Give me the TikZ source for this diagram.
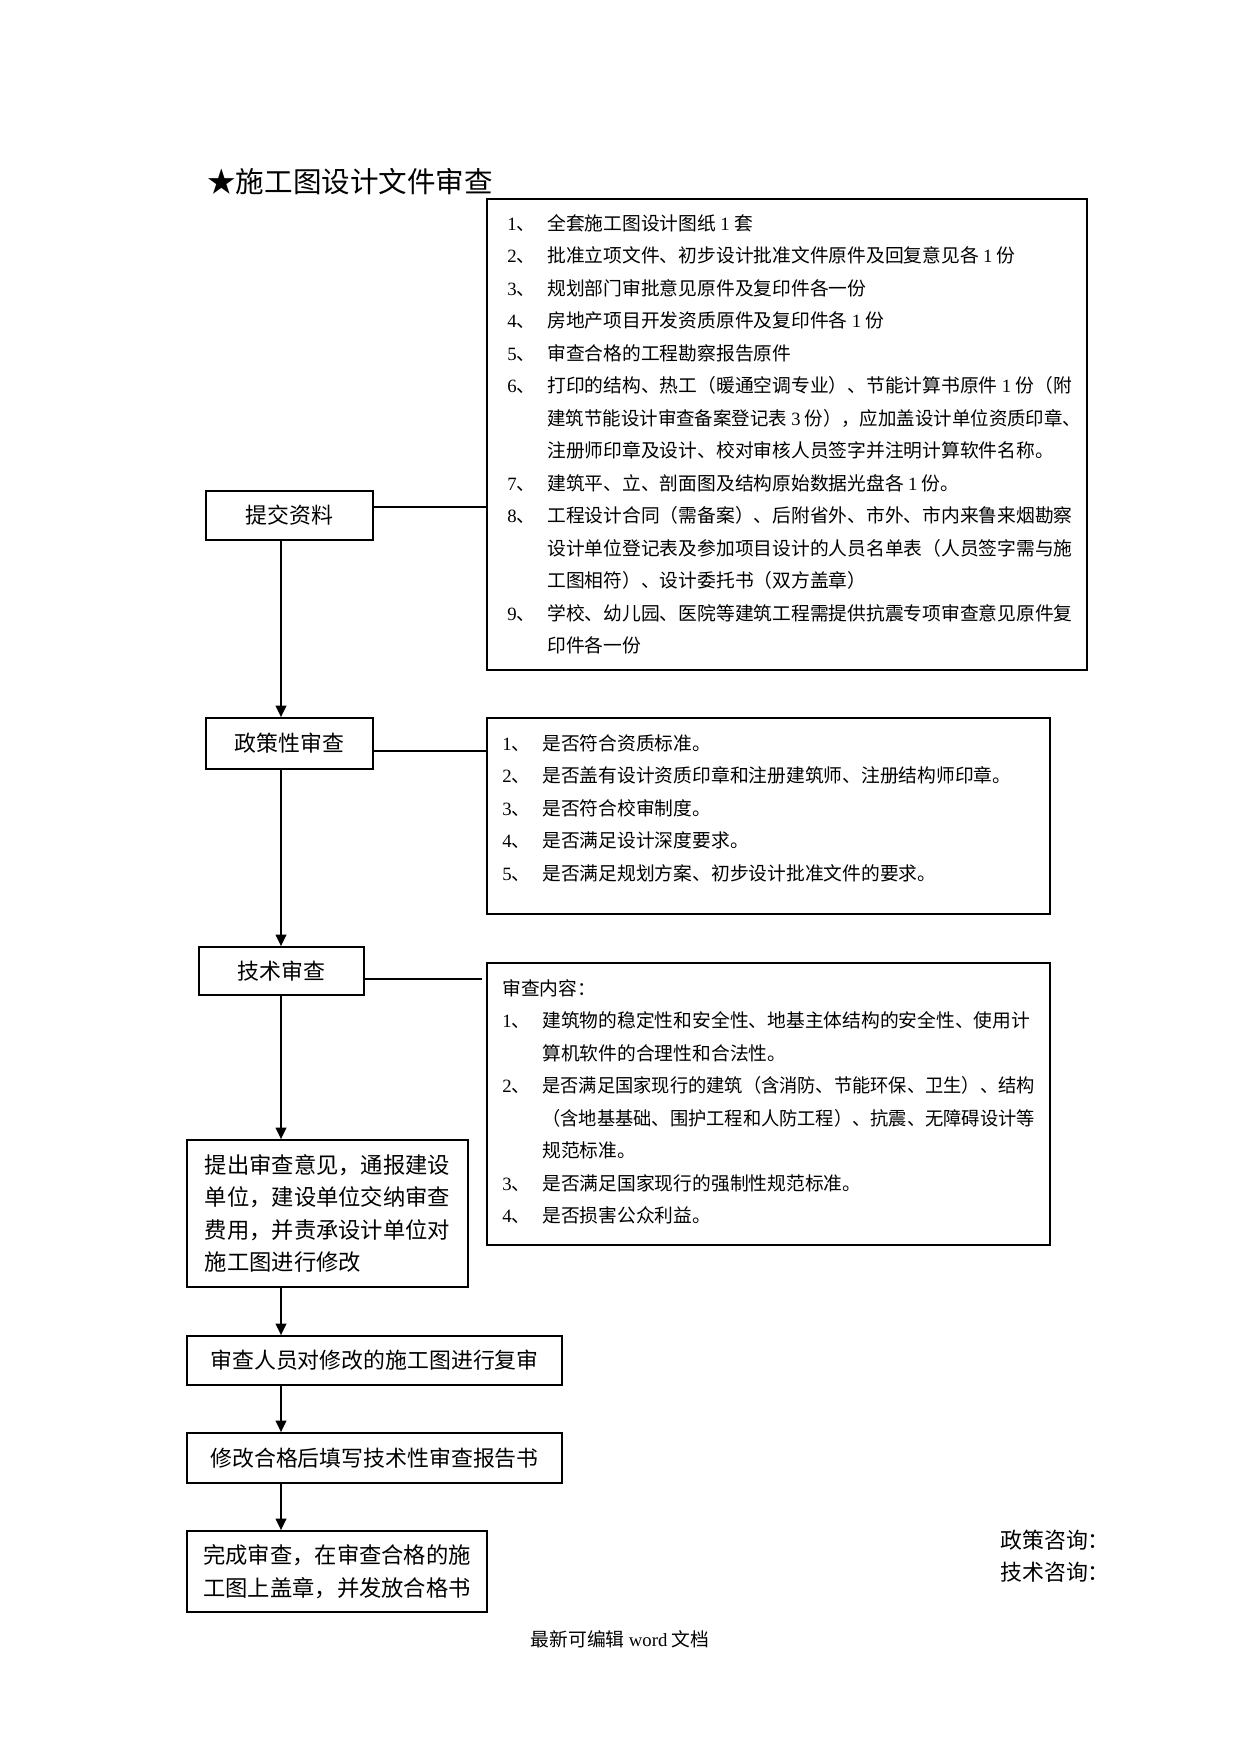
\documentclass[tikz,border=0pt]{standalone}
\usepackage{fontspec}
\usepackage{graphicx}
\setmainfont{Noto Sans CJK SC}
\newfontfamily\lat{Liberation Serif}
\usetikzlibrary{arrows.meta}
\newlength\pxu
\setlength\pxu{0.4797pt}
\newcommand\itm[1]{\makebox[40\pxu][l]{{\lat #1}、}}
\newcommand\ind{\hspace*{40\pxu}}
\newcommand\squeeze[2]{\scalebox{#1}[1]{#2}}
\begin{document}
\begin{tikzpicture}[x=0.4797pt,y=-0.4797pt,
  flowbox/.style={draw, line width=0.8pt, inner sep=0pt, align=left, font=\fontsize{10.5}{15.6}\selectfont},
  panel/.style={draw, line width=0.9pt, inner sep=0pt},
  listtext/.style={anchor=base west, inner sep=0pt, font=\fontsize{9}{15.6}\selectfont},
  arrowline/.style={line width=1pt, -{Triangle[width=5pt,length=5.5pt]}},
  link/.style={line width=0.6pt}]
\useasboundingbox (0,0) rectangle (1241,1754);

% title
\node[anchor=west, inner sep=0pt, font=\fontsize{13.7}{16}\selectfont] (title) at (207,182) {★施工图设计文件审查};

% left flow boxes
\node[flowbox, minimum width=167\pxu, minimum height=49\pxu] (n1) at (289.5,515.5) {提交资料};
\node[flowbox, minimum width=167\pxu, minimum height=51\pxu] (n2) at (289.5,743.5) {政策性审查};
\node[flowbox, minimum width=165\pxu, minimum height=48\pxu] (n3) at (281.5,971) {技术审查};
\node[flowbox, minimum width=281\pxu, minimum height=147\pxu, font=\fontsize{10.7}{15.6}\selectfont] (n4) at (327.5,1213.5)
  {提出审查意见，通报建设\\单位，建设单位交纳审查\\费用，并责承设计单位对\\施工图进行修改};
\node[flowbox, minimum width=375\pxu, minimum height=49\pxu] (n5) at (374.5,1360.5) {审查人员对修改的施工图进行复审};
\node[flowbox, minimum width=375\pxu, minimum height=50\pxu] (n6) at (374.5,1458) {修改合格后填写技术性审查报告书};
\node[flowbox, minimum width=300\pxu, minimum height=81\pxu, font=\fontsize{10.7}{15.6}\selectfont] (n7) at (337,1571.5)
  {完成审查，在审查合格的施\\工图上盖章，并发放合格书};

% right panels
\node[panel, minimum width=600\pxu, minimum height=471\pxu] (b1) at (787,434.5) {};
\node[panel, minimum width=563\pxu, minimum height=196\pxu] (b2) at (768.5,816) {};
\node[panel, minimum width=563\pxu, minimum height=282\pxu] (b3) at (768.5,1104) {};

\node[listtext] (t1) at (507,230) {\begin{tabular}[t]{@{}l@{}}
\itm{1}全套施工图设计图纸 {\lat 1} 套\\
\itm{2}批准立项文件、初步设计批准文件原件及回复意见各 {\lat 1} 份\\
\itm{3}规划部门审批意见原件及复印件各一份\\
\itm{4}房地产项目开发资质原件及复印件各 {\lat 1} 份\\
\itm{5}审查合格的工程勘察报告原件\\
\itm{6}打印的结构、热工（暖通空调专业）、节能计算书原件 {\lat 1} 份（附\\
\ind\squeeze{0.983}{建筑节能设计审查备案登记表 {\lat 3} 份），应加盖设计单位资质印章、}\\
\ind 注册师印章及设计、校对审核人员签字并注明计算软件名称。\\
\itm{7}建筑平、立、剖面图及结构原始数据光盘各 {\lat 1} 份。\\
\itm{8}工程设计合同（需备案）、后附省外、市外、市内来鲁来烟勘察\\
\ind 设计单位登记表及参加项目设计的人员名单表（人员签字需与施\\
\ind 工图相符）、设计委托书（双方盖章）\\
\itm{9}学校、幼儿园、医院等建筑工程需提供抗震专项审查意见原件复\\
\ind 印件各一份
\end{tabular}};

\node[listtext] (t2) at (502,750) {\begin{tabular}[t]{@{}l@{}}
\itm{1}是否符合资质标准。\\
\itm{2}是否盖有设计资质印章和注册建筑师、注册结构师印章。\\
\itm{3}是否符合校审制度。\\
\itm{4}是否满足设计深度要求。\\
\itm{5}是否满足规划方案、初步设计批准文件的要求。
\end{tabular}};

\node[listtext] (t3) at (502,995) {\begin{tabular}[t]{@{}l@{}}
审查内容：\\
\itm{1}建筑物的稳定性和安全性、地基主体结构的安全性、使用计\\
\ind 算机软件的合理性和合法性。\\
\itm{2}\squeeze{0.972}{是否满足国家现行的建筑（含消防、节能环保、卫生）、结构}\\
\ind\squeeze{0.972}{（含地基基础、围护工程和人防工程）、抗震、无障碍设计等}\\
\ind 规范标准。\\
\itm{3}是否满足国家现行的强制性规范标准。\\
\itm{4}是否损害公众利益。
\end{tabular}};

% contact & footer
\node[anchor=west, inner sep=0pt, font=\fontsize{10.5}{12}\selectfont] (q1) at (1000,1540) {政策咨询：};
\node[anchor=west, inner sep=0pt, font=\fontsize{10.5}{12}\selectfont] (q2) at (1000,1572) {技术咨询：};
\node[inner sep=0pt, font=\fontsize{9}{11}\selectfont] (foot) at (620,1639) {最新可编辑 {\lat word} 文档};

% connectors
\coordinate (spine) at (281,0);
\draw[arrowline] (n1.south -| spine) -- (n2.north -| spine);
\draw[arrowline] (n2.south -| spine) -- (n3.north -| spine);
\draw[arrowline] (n3.south -| spine) -- (n4.north -| spine);
\draw[arrowline] (n4.south -| spine) -- (n5.north -| spine);
\draw[arrowline] (n5.south -| spine) -- (n6.north -| spine);
\draw[arrowline] (n6.south -| spine) -- (n7.north -| spine);

\coordinate (h1) at (0,507);
\coordinate (h2) at (0,751);
\coordinate (h3end) at (482,979);
\draw[link] (n1.east |- h1) -- (b1.west |- h1);
\draw[link] (n2.east |- h2) -- (b2.west |- h2);
\draw[link] (n3.east |- h3end) -- (h3end);
\end{tikzpicture}
\end{document}
